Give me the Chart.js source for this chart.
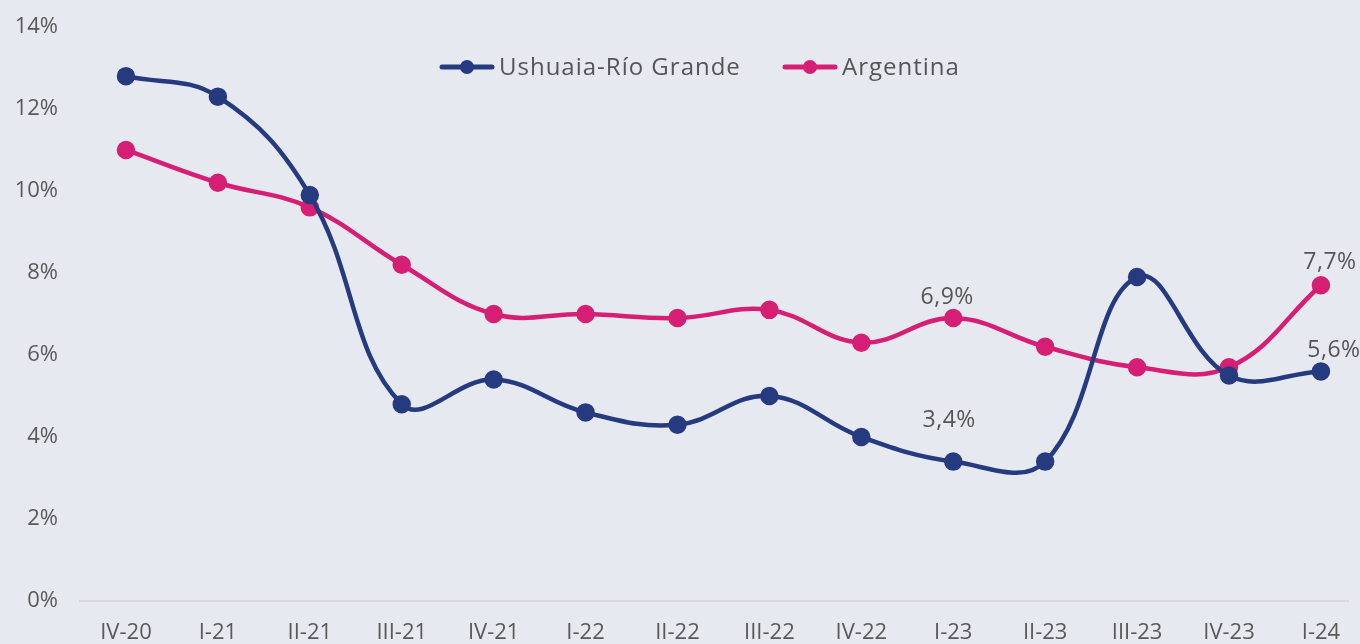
<!DOCTYPE html>
<html>
<head>
<meta charset="utf-8">
<script src="https://cdn.jsdelivr.net/npm/chart.js@4/dist/chart.umd.min.js"></script>
<style>
  html, body { margin: 0; padding: 0; background: #e6e9f0; }
  #wrap { width: 1360px; height: 644px; position: relative; }
</style>
</head>
<body>
<div id="wrap"><canvas id="desempleo"></canvas></div>
<script>
const quarters = ["IV-20", "I-21", "II-21", "III-21", "IV-21", "I-22", "II-22", "III-22", "IV-22", "I-23", "II-23", "III-23", "IV-23", "I-24"];
const ushuaia = [12.8, 12.3, 9.9, 4.8, 5.4, 4.6, 4.3, 5.0, 4.0, 3.4, 3.4, 7.9, 5.5, 5.6];
const argentina = [11.0, 10.2, 9.6, 8.2, 7.0, 7.0, 6.9, 7.1, 6.3, 6.9, 6.2, 5.7, 5.7, 7.7];
const yTicks = [0, 2, 4, 6, 8, 10, 12, 14];

// etiquetas visibles en el grafico: [serie, indice, dx, dy]
const shownLabels = [
  [0, 9, -4, -41],
  [1, 9, -6, -21],
  [0, 13, 13, -21],
  [1, 13, 9, -23],
];

const navy = "#253a7f";
const pink = "#d61f74";
const FONT = "'Open Sans', sans-serif";

const toPoints = (arr) => arr.map((v, i) => ({ x: i, y: v }));
const fmt = (v) => v.toFixed(1).replace(".", ",") + "%";

const labelsPlugin = {
  id: "labels",
  afterDatasetsDraw(chart) {
    const ctx = chart.ctx;
    ctx.save();
    ctx.font = "23px " + FONT;
    ctx.letterSpacing = "0.5px";
    ctx.fillStyle = "#555555";
    ctx.textAlign = "center";
    ctx.textBaseline = "middle";
    shownLabels.forEach(([ds, i, dx, dy]) => {
      const pt = chart.getDatasetMeta(ds).data[i];
      const v = chart.data.datasets[ds].data[i].y;
      ctx.fillText(fmt(v), pt.x + dx, pt.y + dy);
    });

    // leyenda con linea y punto
    ctx.font = "24px " + FONT;
    ctx.letterSpacing = "1px";
    ctx.textAlign = "left";
    const items = [
      { x: 440, color: navy, text: "Ushuaia-Río Grande" },
      { x: 783, color: pink, text: "Argentina" },
    ];
    items.forEach((it) => {
      const y = 67;
      ctx.strokeStyle = it.color;
      ctx.lineWidth = 5;
      ctx.lineCap = "round";
      ctx.beginPath();
      ctx.moveTo(it.x + 2, y);
      ctx.lineTo(it.x + 52, y);
      ctx.stroke();
      ctx.fillStyle = it.color;
      ctx.beginPath();
      ctx.arc(it.x + 27, y, 7, 0, Math.PI * 2);
      ctx.fill();
      ctx.fillStyle = "#555555";
      ctx.fillText(it.text, it.x + 59, y + 1);
    });
    ctx.restore();
  },
};

new Chart(document.getElementById("desempleo"), {
  type: "line",
  data: {
    datasets: [
      {
        label: "Ushuaia-Río Grande",
        data: toPoints(ushuaia),
        borderColor: navy,
        backgroundColor: navy,
        borderWidth: 4.5,
        pointRadius: 7,
        pointHoverRadius: 7,
        tension: 0.4,
      },
      {
        label: "Argentina",
        data: toPoints(argentina),
        borderColor: pink,
        backgroundColor: pink,
        borderWidth: 4.5,
        pointRadius: 7,
        pointHoverRadius: 7,
        tension: 0.4,
      },
    ],
  },
  options: {
    responsive: true,
    maintainAspectRatio: false,
    animation: false,
    layout: { padding: 0 },
    scales: {
      x: {
        type: "linear",
        min: -0.5,
        max: 13.3,
        grid: { display: false, drawTicks: false },
        border: { display: true, color: "#d9d9d9", width: 2 },
        ticks: {
          stepSize: 1,
          includeBounds: false,
          autoSkip: false,
          maxRotation: 0,
          padding: 19,
          color: "#595959",
          font: { family: FONT, size: 22 },
          callback: (v) => (Number.isInteger(v) ? quarters[v] : ""),
        },
        afterFit: (s) => { s.height = 43; },
      },
      y: {
        min: 0,
        max: 14,
        grid: { display: false, drawTicks: false },
        border: { display: false },
        afterBuildTicks: (s) => { s.ticks = yTicks.map((v) => ({ value: v })); },
        ticks: {
          padding: 22,
          color: "#595959",
          font: { family: FONT, size: 22, lineHeight: 0.45 },
          callback: (v) => v + "%",
        },
        afterFit: (s) => { s.width = 80; },
      },
    },
    plugins: {
      legend: { display: false },
      tooltip: { enabled: false },
    },
  },
  plugins: [labelsPlugin],
});
</script>
</body>
</html>
